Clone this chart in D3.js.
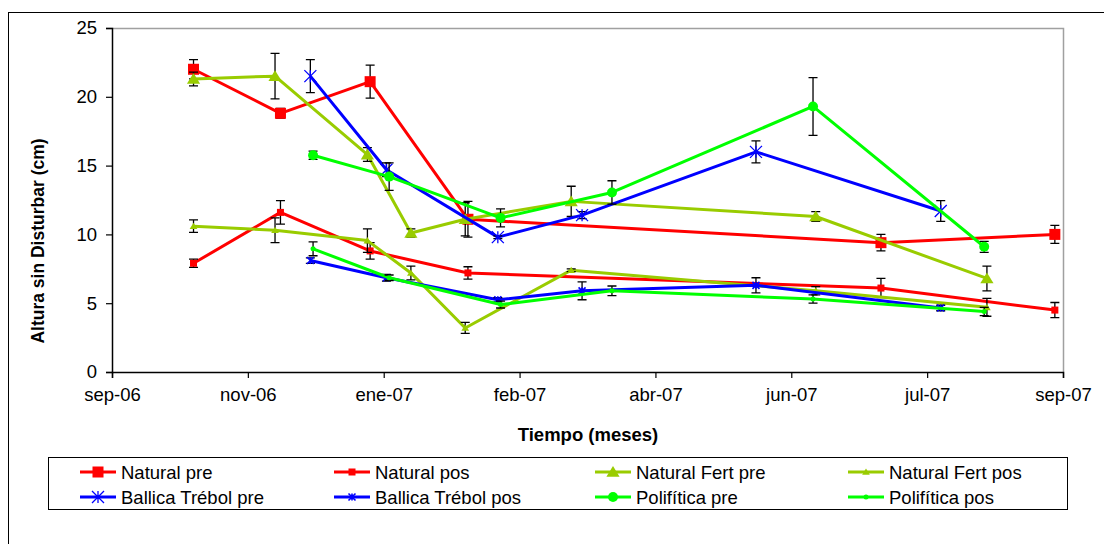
<!DOCTYPE html>
<html>
<head>
<meta charset="utf-8">
<script src="https://cdn.jsdelivr.net/npm/d3@7"></script>
<style>
  body { margin: 0; background: #fff; }
  svg { display: block; font-family: "Liberation Sans", Arial, sans-serif; }
</style>
</head>
<body>
<svg id="chart" width="1104" height="544"></svg>
<script>
// ---- data ----
const tickDates = ["2006-09-25","2006-11-14","2007-01-03","2007-02-22","2007-04-13","2007-06-02","2007-07-22","2007-09-10"];
const tickLabels = ["sep-06","nov-06","ene-07","feb-07","abr-07","jun-07","jul-07","sep-07"];
const yTicks = [0, 5, 10, 15, 20, 25];

const datesNatural = ["2006-10-25","2006-11-26","2006-12-29","2007-02-03","2007-07-05","2007-09-07"];
const datesFert    = ["2006-10-25","2006-11-24","2006-12-28","2007-01-13","2007-02-02","2007-03-13","2007-06-11","2007-08-13"];
const datesBallica = ["2006-12-07","2007-01-04","2007-02-14","2007-03-17","2007-05-20","2007-07-27"];
const datesPoli    = ["2006-12-08","2007-01-05","2007-02-15","2007-03-28","2007-06-10","2007-08-12"];

const naturalPre     = [22.0, 18.8, 21.1, 11.1, 9.4, 10.0];
const naturalPreErr  = [0.7, 0.35, 1.2, 1.3, 0.6, 0.65];
const naturalPos     = [7.9, 11.6, 8.8, 7.2, 6.1, 4.5];
const naturalPosErr  = [0.3, 0.85, 0.6, 0.45, 0.7, 0.55];
const fertPre        = [21.3, 21.5, 15.8, 10.1, 11.1, 12.4, 11.3, 6.8];
const fertPreErr     = [0.5, 1.65, 0.5, 0.3, 1.2, 1.1, 0.35, 0.9];
const fertPos        = [10.6, 10.3, 9.55, 7.2, 3.2, 7.4, 5.9, 4.7];
const fertPosErr     = [0.45, 0.9, 0.85, 0.5, 0.4, 0.1, 0.3, 0.65];
const ballicaPre     = [21.5, 14.7, 9.8, 11.4, 16.0, 11.7];
const ballicaPreErr  = [1.2, 0.5, 0.1, 0.25, 0.8, 0.75];
const ballicaPos     = [8.1, 6.85, 5.25, 5.9, 6.3, 4.65];
const ballicaPosErr  = [0.2, 0.25, 0.15, 0.65, 0.55, 0.2];
const poliPre        = [15.75, 14.2, 11.2, 13.05, 19.3, 9.1];
const poliPreErr     = [0.3, 1.0, 0.65, 0.85, 2.1, 0.4];
const poliPos        = [8.95, 6.85, 4.9, 5.9, 5.3, 4.4];
const poliPosErr     = [0.5, 0.2, 0.25, 0.35, 0.3, 0.3];

const seriesNames = ["Natural pre","Natural pos","Natural Fert pre","Natural Fert pos","Ballica Trébol pre","Ballica Trébol pos","Polifítica pre","Polifítica pos"];

const parse = d3.utcParse("%Y-%m-%d");
const series = [
  {name: seriesNames[0], dates: datesNatural, vals: naturalPre, err: naturalPreErr, color: "#FF0000", marker: "square", size: 11},
  {name: seriesNames[1], dates: datesNatural, vals: naturalPos, err: naturalPosErr, color: "#FF0000", marker: "square", size: 7},
  {name: seriesNames[2], dates: datesFert, vals: fertPre, err: fertPreErr, color: "#99CC00", marker: "triangle", size: 12},
  {name: seriesNames[3], dates: datesFert, vals: fertPos, err: fertPosErr, color: "#99CC00", marker: "triangle", size: 7},
  {name: seriesNames[4], dates: datesBallica, vals: ballicaPre, err: ballicaPreErr, color: "#0000FF", marker: "star", size: 12},
  {name: seriesNames[5], dates: datesBallica, vals: ballicaPos, err: ballicaPosErr, color: "#0000FF", marker: "star", size: 7},
  {name: seriesNames[6], dates: datesPoli, vals: poliPre, err: poliPreErr, color: "#00FF00", marker: "circle", size: 10},
  {name: seriesNames[7], dates: datesPoli, vals: poliPos, err: poliPosErr, color: "#00FF00", marker: "circle", size: 5}
];

// ---- layout ----
const svg = d3.select("#chart");
const L = 112, R = 1063, T = 28, B = 372;
const FS = 18.5;
const x = d3.scaleUtc().domain([parse(tickDates[0]), parse(tickDates[tickDates.length-1])]).range([L, R]);
const y = d3.scaleLinear().domain([0, 25]).range([B, T]);

// outer chart border (cropped at right/bottom)
svg.append("rect").attr("x", 8.5).attr("y", 12.5).attr("width", 1120).attr("height", 560)
  .attr("fill", "none").attr("stroke", "#000").attr("stroke-width", 1);

// plot area border (top/right gray)
svg.append("path").attr("d", `M${L},${T+0.5}H${R+0.5}V${B}`).attr("fill", "none")
  .attr("stroke", "#A0A0A0").attr("stroke-width", 1.5);

// axes
const xAxis = d3.axisBottom(x)
  .tickValues(tickDates.map(parse))
  .tickFormat((d, i) => tickLabels[i])
  .tickSizeOuter(0).tickSize(6).tickPadding(10);
const gx = svg.append("g").attr("transform", `translate(0,${B})`).call(xAxis);
gx.select(".domain").attr("stroke", "#000").attr("stroke-width", 1.5);
gx.selectAll(".tick line").attr("stroke", "#000").attr("stroke-width", 1.2);
gx.selectAll(".tick text").attr("font-size", FS).attr("fill", "#000").attr("font-family", "Liberation Sans, Arial, sans-serif");

const yAxis = d3.axisLeft(y).tickValues(yTicks).tickSizeOuter(0).tickSize(6).tickPadding(9);
const gy = svg.append("g").attr("transform", `translate(${L},0)`).call(yAxis);
gy.select(".domain").attr("stroke", "#000").attr("stroke-width", 1.5);
gy.selectAll(".tick line").attr("stroke", "#000").attr("stroke-width", 1.2);
gy.selectAll(".tick text").attr("font-size", FS).attr("fill", "#000").attr("font-family", "Liberation Sans, Arial, sans-serif");

// axis titles
svg.append("text").attr("x", 588).attr("y", 441).attr("text-anchor", "middle")
  .attr("font-size", FS).attr("font-weight", "bold").text("Tiempo (meses)");
svg.append("text").attr("transform", "translate(44,241) rotate(-90)").attr("text-anchor", "middle")
  .attr("font-size", 17.5).attr("font-weight", "bold").text("Altura sin Disturbar (cm)");

// markers
function drawMarker(g, type, size, color, cx, cy) {
  const h = size / 2;
  if (type === "square") {
    g.append("rect").attr("x", cx - h).attr("y", cy - h).attr("width", size).attr("height", size).attr("fill", color);
  } else if (type === "triangle") {
    g.append("path").attr("d", `M${cx},${cy - h}L${cx + h * 1.1},${cy + h * 0.8}L${cx - h * 1.1},${cy + h * 0.8}Z`).attr("fill", color);
  } else if (type === "circle") {
    g.append("circle").attr("cx", cx).attr("cy", cy).attr("r", h).attr("fill", color);
  } else if (type === "star") {
    g.append("path").attr("d", `M${cx - h},${cy - h}L${cx + h},${cy + h}M${cx - h},${cy + h}L${cx + h},${cy - h}M${cx},${cy - h}L${cx},${cy + h}`)
      .attr("stroke", color).attr("stroke-width", size > 9 ? 1.3 : 1.6).attr("fill", "none");
  }
}

const line = d3.line().x(d => x(d.date)).y(d => y(d.v));
series.forEach(s => {
  const pts = s.vals.map((v, i) => ({date: parse(s.dates[i]), v, e: s.err[i]}));
  const g = svg.append("g");
  g.append("path").datum(pts).attr("d", line).attr("fill", "none").attr("stroke", s.color)
    .attr("stroke-width", 3).attr("stroke-linejoin", "round");
  // error bars
  pts.forEach(p => {
    const px = x(p.date), y1 = y(p.v + p.e), y2 = y(p.v - p.e);
    g.append("path").attr("d", `M${px},${y1}V${y2}M${px - 4.5},${y1}H${px + 4.5}M${px - 4.5},${y2}H${px + 4.5}`)
      .attr("stroke", "#000").attr("stroke-width", 1.3).attr("fill", "none");
  });
  pts.forEach(p => drawMarker(g, s.marker, s.size, s.color, x(p.date), y(p.v)));
});

// legend
svg.append("rect").attr("x", 48.5).attr("y", 457.5).attr("width", 1019).attr("height", 52)
  .attr("fill", "#fff").attr("stroke", "#000").attr("stroke-width", 1);
const colX = [80, 334, 595, 848];
const rowY = [472, 497];
series.forEach((s, k) => {
  const cx = colX[k % 4], cy = rowY[Math.floor(k / 4)];
  const g = svg.append("g");
  g.append("line").attr("x1", cx).attr("x2", cx + 36).attr("y1", cy).attr("y2", cy)
    .attr("stroke", s.color).attr("stroke-width", 3);
  drawMarker(g, s.marker, s.size, s.color, cx + 18, cy);
  g.append("text").attr("x", cx + 41).attr("y", cy + 6.5).attr("font-size", FS).attr("fill", "#000").text(s.name);
});
</script>
</body>
</html>
